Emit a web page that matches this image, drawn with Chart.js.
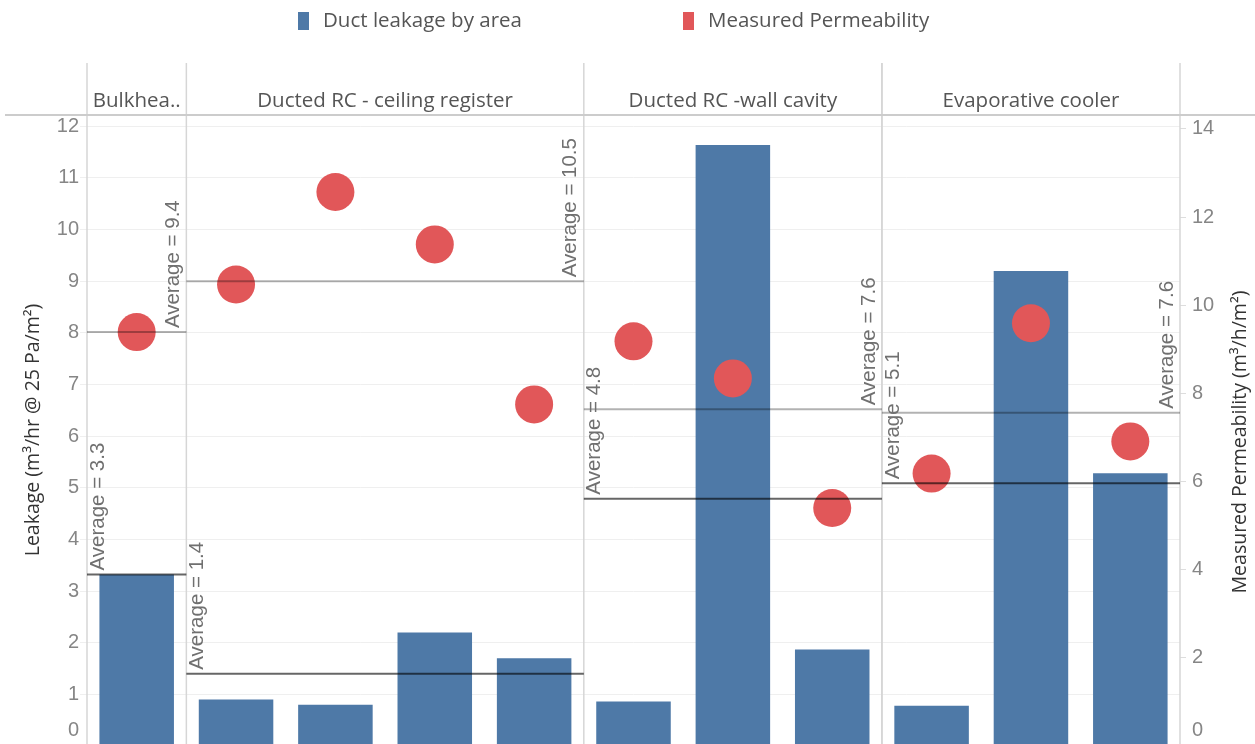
<!DOCTYPE html>
<html>
<head>
<meta charset="utf-8">
<title>Duct leakage</title>
<script src="https://cdn.jsdelivr.net/npm/chart.js@4.4.1/dist/chart.umd.min.js"></script>
<style>
  html, body { margin: 0; padding: 0; background: #fff; overflow: hidden; }
  #wrap { position: absolute; left: 0; top: 0; width: 1255px; height: 760px; }
</style>
</head>
<body>
<div id="wrap"><canvas id="chart" width="1255" height="760"></canvas></div>
<script>
// -----------------------------
// DATA
// -----------------------------
const paneNames = ["Bulkhea..", "Ducted RC - ceiling register", "Ducted RC -wall cavity", "Evaporative cooler"];
const paneSizes = [1, 4, 3, 3];
const categories = ["B1", "C1", "C2", "C3", "C4", "W1", "W2", "W3", "E1", "E2", "E3"];
const leakage = [3.32, 0.90, 0.80, 2.20, 1.70, 0.86, 11.64, 1.87, 0.78, 9.20, 5.28];
const permeability = [9.39, 10.47, 12.57, 11.38, 7.75, 9.18, 8.34, 5.40, 6.18, 9.59, 6.91];
const leftTicks = [0, 1, 2, 3, 4, 5, 6, 7, 8, 9, 10, 11, 12];
const rightTicks = [0, 2, 4, 6, 8, 10, 12, 14];
const leftTitle = "Leakage (m³/hr @ 25 Pa/m²)";
const rightTitle = "Measured Permeability (m³/h/m²)";

const BLUE = "#4e79a7";
const RED = "#e15759";
const LABEL_FONT = "'Open Sans', sans-serif";
const NUM_FONT = "'Liberation Sans', Arial, sans-serif";

// pane index ranges
function paneGroups() {
    let start = 0;
    return paneSizes.map((n, i) => {
        const g = { name: paneNames[i], start: start, end: start + n - 1 };
        start += n;
        return g;
    });
}

function paneEdges(chart, g) {
    const x = chart.scales.x;
    const half = (x.getPixelForValue(1) - x.getPixelForValue(0)) / 2;
    return { left: x.getPixelForValue(g.start) - half, right: x.getPixelForValue(g.end) + half };
}

const mean = arr => arr.reduce((s, v) => s + v, 0) / arr.length;

// -----------------------------
// TABLEAU-STYLE DECORATIONS
// -----------------------------
const tableauPlugin = {
    id: "tableau",
    beforeDatasetsDraw(chart) {
        const ctx = chart.ctx;
        ctx.save();
        ctx.strokeStyle = "#d6d6d6";
        ctx.lineWidth = 1.5;
        const xs = [];
        paneGroups().forEach(g => {
            const e = paneEdges(chart, g);
            if (!xs.includes(e.left)) xs.push(e.left);
            xs.push(e.right);
        });
        xs.forEach(x => {
            ctx.beginPath();
            ctx.moveTo(x, 63);
            ctx.lineTo(x, chart.height);
            ctx.stroke();
        });
        // header bottom rule
        ctx.strokeStyle = "#cccccc";
        ctx.lineWidth = 2;
        ctx.beginPath();
        ctx.moveTo(5, 115);
        ctx.lineTo(chart.width, 115);
        ctx.stroke();
        ctx.restore();
    },
    afterDatasetsDraw(chart) {
        const ctx = chart.ctx;
        const yL = chart.scales.y;
        const yR = chart.scales.y1;
        ctx.save();
        paneGroups().forEach(g => {
            const e = paneEdges(chart, g);
            const avgBar = mean(leakage.slice(g.start, g.end + 1));
            const avgPt = mean(permeability.slice(g.start, g.end + 1));
            const yb = yL.getPixelForValue(avgBar);
            const yp = yR.getPixelForValue(avgPt);

            ctx.lineWidth = 2;
            ctx.strokeStyle = "rgba(0,0,0,0.3)";
            ctx.beginPath();
            ctx.moveTo(e.left, yp);
            ctx.lineTo(e.right, yp);
            ctx.stroke();

            ctx.strokeStyle = "rgba(0,0,0,0.6)";
            ctx.beginPath();
            ctx.moveTo(e.left, yb);
            ctx.lineTo(e.right, yb);
            ctx.stroke();

            ctx.font = "20.5px " + NUM_FONT;
            ctx.fillStyle = "#707070";
            ctx.textAlign = "left";
            ctx.textBaseline = "middle";

            ctx.save();
            ctx.translate(e.left + 11, yb - 4);
            ctx.rotate(-Math.PI / 2);
            ctx.fillText("Average = " + avgBar.toFixed(1), 0, 0);
            ctx.restore();

            ctx.save();
            ctx.translate(e.right - 13, yp - 4);
            ctx.rotate(-Math.PI / 2);
            ctx.fillText("Average = " + avgPt.toFixed(1), 0, 0);
            ctx.restore();
        });
        ctx.restore();
    },
    afterDraw(chart) {
        const ctx = chart.ctx;
        ctx.save();

        // pane headers
        ctx.font = "20.5px " + LABEL_FONT;
        ctx.fillStyle = "#555";
        ctx.textAlign = "center";
        ctx.textBaseline = "middle";
        paneGroups().forEach(g => {
            const e = paneEdges(chart, g);
            ctx.fillText(g.name, (e.left + e.right) / 2, 101);
        });

        // axis tick labels (bottom one is squeezed up like Tableau does)
        ctx.font = "20px " + NUM_FONT;
        ctx.fillStyle = "#868686";
        ctx.textAlign = "right";
        chart.scales.y.ticks.forEach(t => {
            const y = Math.min(chart.scales.y.getPixelForValue(t.value), 730);
            ctx.fillText(String(t.value), 79, y);
        });
        ctx.textAlign = "left";
        chart.scales.y1.ticks.forEach(t => {
            const y = Math.min(chart.scales.y1.getPixelForValue(t.value), 730);
            ctx.fillText(String(t.value), 1192, y);
        });

        // axis titles
        ctx.font = "19.5px " + LABEL_FONT;
        ctx.fillStyle = "#333";
        ctx.textAlign = "center";
        ctx.save();
        ctx.translate(33, 430);
        ctx.rotate(-Math.PI / 2);
        ctx.fillText(leftTitle, 0, 0);
        ctx.restore();
        ctx.save();
        ctx.translate(1240, 442);
        ctx.rotate(-Math.PI / 2);
        ctx.fillText(rightTitle, 0, 0);
        ctx.restore();

        // legend
        const legendX = [298, 683];
        ctx.font = "20.5px " + LABEL_FONT;
        ctx.textAlign = "left";
        chart.data.datasets.forEach((ds, i) => {
            ctx.fillStyle = i === 0 ? BLUE : RED;
            ctx.fillRect(legendX[i], 12, 11, 18);
            ctx.fillStyle = "#555";
            ctx.fillText(ds.label, legendX[i] + 25, 21);
        });

        ctx.restore();
    }
};

// -----------------------------
// CHART
// -----------------------------
const ctx = document.getElementById("chart").getContext("2d");
new Chart(ctx, {
    type: "bar",
    data: {
        labels: categories,
        datasets: [{
            type: "bar",
            label: "Duct leakage by area",
            data: leakage,
            backgroundColor: BLUE,
            yAxisID: "y",
            order: 2,
            barPercentage: 0.75,
            categoryPercentage: 1
        }, {
            type: "line",
            label: "Measured Permeability",
            data: permeability,
            yAxisID: "y1",
            showLine: false,
            pointRadius: 19,
            pointHoverRadius: 19,
            pointBackgroundColor: RED,
            pointBorderColor: RED,
            pointBorderWidth: 0,
            order: 1
        }]
    },
    options: {
        responsive: false,
        animation: false,
        devicePixelRatio: 1,
        layout: { autoPadding: false, padding: { top: 117, bottom: 14, left: 0, right: 0 } },
        plugins: {
            legend: { display: false },
            tooltip: { enabled: false }
        },
        scales: {
            x: { display: false, offset: true },
            y: {
                position: "left",
                min: 0,
                max: 12.18,
                afterBuildTicks: s => { s.ticks = leftTicks.map(v => ({ value: v })); },
                afterFit: s => { s.width = 87; },
                ticks: { display: false },
                grid: { color: "#efefef", tickLength: 7 },
                border: { display: false }
            },
            y1: {
                position: "right",
                min: 0,
                max: 14.27,
                afterBuildTicks: s => { s.ticks = rightTicks.map(v => ({ value: v })); },
                afterFit: s => { s.width = 75; },
                ticks: { display: false },
                grid: { drawOnChartArea: false, color: "#dddddd", tickLength: 6 },
                border: { display: false }
            }
        }
    },
    plugins: [tableauPlugin]
});
</script>
</body>
</html>
